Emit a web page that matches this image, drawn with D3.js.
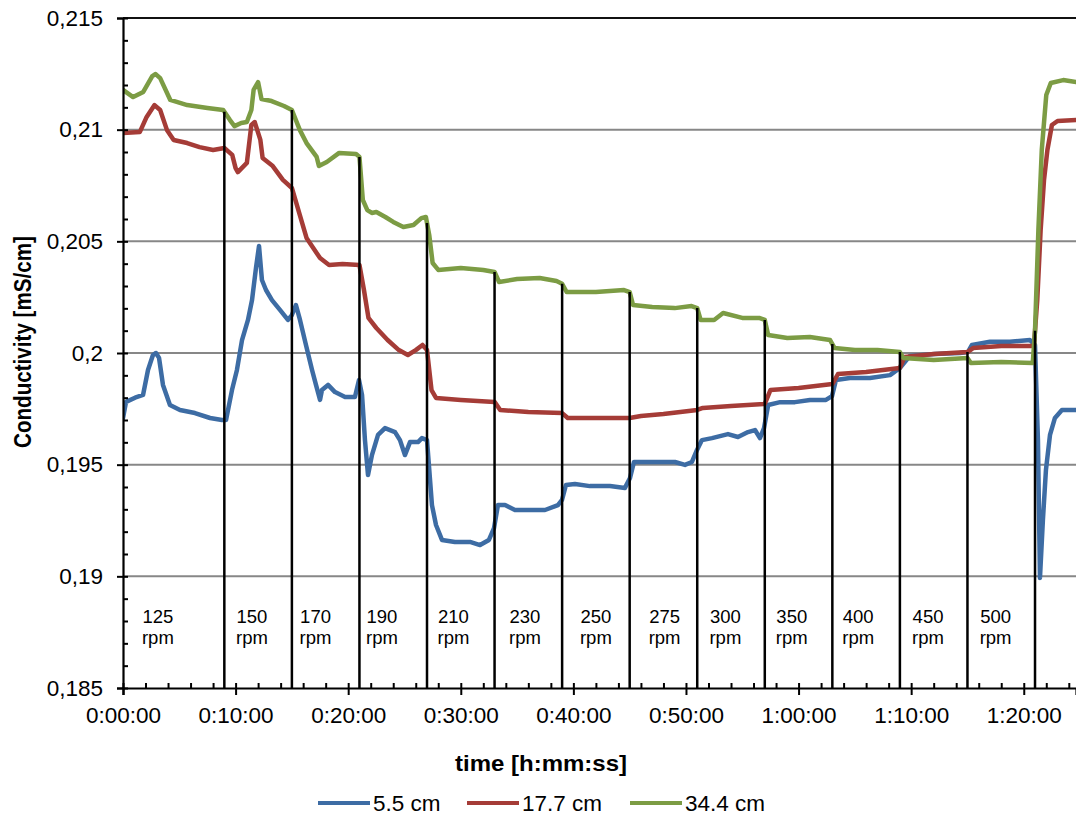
<!DOCTYPE html>
<html>
<head>
<meta charset="utf-8">
<script src="https://cdn.jsdelivr.net/npm/d3@7"></script>
<style>
  body { margin: 0; background: #fff; }
  svg { display: block; }
  text { font-family: "Liberation Sans", Arial, sans-serif; fill: #000; }
</style>
</head>
<body>
<svg id="chart" width="1076" height="821"></svg>
<script>
// Conductivity recorded at three probe heights while the stirrer speed is stepped up.
// Times are in minutes from the start of the run, values in mS/cm.

const seriesNames = ["5.5 cm", "17.7 cm", "34.4 cm"];
const seriesColors = ["#3d6ca4", "#a53c37", "#7c9c44"];

const cond55 = [
  [0, .19709], [0.27, .19781], [1.07, .1980], [1.78, .19812], [2.22, .19924], [2.66, .19991],
  [2.93, .2000], [3.2, .19978], [3.55, .19857], [4.17, .19767], [5.06, .19745], [6.39, .19731],
  [7.73, .19709], [8.79, .1970], [9.15, .1970], [9.68, .19834], [10.12, .19924], [10.57, .20058],
  [11.1, .20148], [11.46, .20237], [11.81, .20381], [12.08, .20479], [12.34, .20327], [12.7, .20282],
  [13.23, .20237], [13.94, .20193], [14.65, .20148], [15.0, .2017], [15.36, .20215], [15.72, .20148],
  [16.25, .20036], [16.79, .19924], [17.14, .19857], [17.5, .1979], [17.67, .19834], [18.21, .19857],
  [18.83, .19825], [19.72, .19803], [20.6, .19803], [20.96, .19879], [21.23, .19812], [21.49, .1961],
  [21.76, .19454], [22.11, .19543], [22.65, .19633], [23.27, .19664], [24.16, .19646], [24.6, .1961],
  [25.04, .19543], [25.49, .19601], [26.2, .19601], [26.55, .19619], [27.0, .1961], [27.44, .19319],
  [27.8, .1923], [28.33, .19163], [29.48, .19154], [30.82, .19154], [31.71, .1914], [32.5, .19163],
  [32.95, .19216], [33.3, .19319], [33.93, .19319], [34.81, .19297], [36.15, .19297], [37.48, .19297],
  [38.63, .19319], [38.99, .19342], [39.34, .19409], [40.14, .19413], [41.47, .19404], [43.25, .19404],
  [44.58, .19396], [45.03, .1944], [45.38, .19512], [46.36, .19512], [47.69, .19512], [49.02, .19512],
  [49.91, .19499], [50.53, .19512], [50.98, .19566], [51.42, .1961], [52.31, .19619], [53.02, .19628],
  [53.73, .19637], [54.62, .19624], [55.51, .19646], [56.13, .19655], [56.57, .19619], [56.93, .19664],
  [57.3, .19767], [58.36, .1978], [59.68, .1978], [61.01, .1979], [62.43, .1979], [62.97, .19807],
  [63.32, .19879], [64.56, .19888], [66.34, .19888], [68.12, .19901], [69.0, .19933], [69.89, .19987],
  [72.11, .19996], [74.33, .2000], [75.04, .20004], [75.4, .20036], [77.0, .2005], [78.77, .2005],
  [80.55, .20058], [81.0, .20036], [81.26, .1961], [81.44, .18993], [81.7, .19252], [81.97, .19476],
  [82.33, .19633], [82.77, .19709], [83.39, .19745], [84.64, .19745]
];

const cond177 = [
  [0, .20985], [1.5, .2099], [2.1, .21057], [2.8, .2111], [3.3, .21088], [3.9, .20999],
  [4.5, .20954], [5.7, .2094], [6.8, .20922], [8.0, .20909], [9.0, .20918], [9.7, .20887],
  [10.0, .20828], [10.2, .2081], [11.0, .20851], [11.4, .21021], [11.7, .21034], [12.2, .20954],
  [12.4, .20873], [13.3, .20837], [14.2, .20775], [15.0, .20739], [15.7, .20618], [16.3, .20515],
  [17.5, .20425], [18.3, .20394], [19.5, .20399], [21.0, .20394], [21.4, .20282], [21.8, .20157],
  [22.5, .20112], [23.5, .20058], [24.5, .20013], [25.3, .19991], [26.0, .20013], [26.6, .20036],
  [27.0, .20013], [27.4, .19834], [27.8, .19799], [30.0, .1979], [33.0, .19781], [33.5, .19745],
  [36.0, .19736], [39.0, .19731], [39.5, .19709], [42.0, .19709], [45.0, .19709], [46.0, .19718],
  [48.0, .19727], [51.0, .19745], [51.5, .19754], [54.0, .19763], [57.0, .19772], [57.5, .19834],
  [60.0, .19843], [63.0, .19861], [63.5, .19906], [66.0, .19915], [69.0, .19933], [69.4, .19982],
  [72.0, .19996], [75.0, .20004], [75.5, .20022], [78.0, .20031], [80.9, .20031], [81.2, .20237],
  [81.5, .20551], [81.8, .20775], [82.1, .20909], [82.5, .21021], [83.0, .21039], [84.64, .21043]
];

const cond344 = [
  [0, .21178], [0.9, .21146], [1.8, .21169], [2.6, .2124], [2.9, .21249], [3.3, .21231],
  [4.2, .21133], [5.7, .2111], [7.5, .21097], [8.9, .21088], [9.5, .21043], [9.9, .21016],
  [10.5, .2103], [11.0, .21034], [11.4, .21088], [11.6, .21178], [12.0, .21213], [12.3, .21137],
  [13.2, .21128], [14.3, .21106], [15.0, .21088], [15.7, .20999], [16.3, .2094], [17.2, .20878],
  [17.4, .20837], [18.1, .20855], [19.2, .20896], [20.7, .20891], [21.0, .20878], [21.3, .20685],
  [21.7, .2064], [22.1, .20627], [22.5, .20631], [23.3, .20609], [24.0, .20587], [24.9, .20564],
  [25.8, .20573], [26.5, .20604], [26.9, .20609], [27.2, .20528], [27.5, .20403], [28.0, .20372],
  [30.0, .20381], [32.0, .20372], [33.0, .20363], [33.4, .20318], [35.0, .20331], [37.0, .20336],
  [38.5, .20322], [39.0, .2031], [39.4, .20273], [42.0, .20273], [44.5, .20282], [45.0, .20273],
  [45.3, .20215], [47.0, .20206], [49.0, .20201], [50.5, .2021], [51.0, .20201], [51.3, .20148],
  [52.5, .20148], [53.3, .20179], [55.0, .20157], [56.5, .20157], [57.0, .20148], [57.3, .20081],
  [59.0, .20067], [61.0, .20072], [62.8, .20058], [63.2, .20022], [65.0, .20013], [67.0, .20013],
  [69.0, .20004], [69.3, .19978], [72.0, .19969], [75.0, .19978], [75.3, .19955], [78.0, .1996],
  [80.8, .19955], [81.0, .2010], [81.3, .20551], [81.6, .20909], [82.0, .21155], [82.4, .21209],
  [83.5, .21222], [84.64, .21213]
];

// Stirrer speeds and the minute at which each new speed starts
const speeds = ["125", "150", "170", "190", "210", "230", "250", "275", "300", "350", "400", "450", "500"];
const speedChanges = [9, 15, 21, 27, 33, 39, 45, 51, 57, 63, 69, 75, 81];
const speedLabelTimes = [3.1, 11.45, 17.1, 23.0, 29.35, 35.7, 42.0, 48.1, 53.5, 59.4, 65.3, 71.5, 77.5];

const yTicks = [0.185, 0.19, 0.195, 0.2, 0.205, 0.21, 0.215];
const yTickLabels = ["0,185", "0,19", "0,195", "0,2", "0,205", "0,21", "0,215"];
const xTicks = [0, 10, 20, 30, 40, 50, 60, 70, 80];
const xTickLabels = ["0:00:00", "0:10:00", "0:20:00", "0:30:00", "0:40:00", "0:50:00", "1:00:00", "1:10:00", "1:20:00"];

const allSeries = [cond55, cond177, cond344];

// ---- layout ----
const svg = d3.select("#chart");
const plot = { left: 123, top: 18, right: 1076, bottom: 688 };

const x = d3.scaleLinear().domain([0, 84.64]).range([plot.left, plot.right]);
const y = d3.scaleLinear().domain([0.185, 0.215]).range([plot.bottom, plot.top]);

svg.append("defs").append("clipPath").attr("id", "plot-clip")
  .append("rect")
  .attr("x", plot.left).attr("y", plot.top - 10)
  .attr("width", plot.right - plot.left).attr("height", plot.bottom - plot.top + 10);

// horizontal gridlines
svg.append("g").selectAll("line")
  .data(yTicks.filter(v => v > 0.1851))
  .join("line")
  .attr("x1", plot.left).attr("x2", plot.right)
  .attr("y1", d => y(d)).attr("y2", d => y(d))
  .attr("stroke", d => d > 0.2149 ? "#111" : "#878787")
  .attr("stroke-width", 2);

// data lines
const line = d3.line().x(d => x(d[0])).y(d => y(d[1]));
svg.append("g").attr("clip-path", "url(#plot-clip)")
  .selectAll("path")
  .data(allSeries)
  .join("path")
  .attr("d", line)
  .attr("fill", "none")
  .attr("stroke", (d, i) => seriesColors[i])
  .attr("stroke-width", 4.5)
  .attr("stroke-linejoin", "round")
  .attr("stroke-linecap", "round");

// value of a series at time t (linear between samples)
const bis = d3.bisector(d => d[0]).left;
function valueAt(s, t) {
  const i = Math.max(1, Math.min(s.length - 1, bis(s, t)));
  const a = s[i - 1], b = s[i];
  const f = (t - a[0]) / (b[0] - a[0]);
  return a[1] + f * (b[1] - a[1]);
}

// speed-change markers rise from the axis to the highest trace
svg.append("g").selectAll("line")
  .data(speedChanges)
  .join("line")
  .attr("x1", d => x(d)).attr("x2", d => x(d))
  .attr("y1", plot.bottom)
  .attr("y2", d => y(d3.max(allSeries, s => valueAt(s, d))))
  .attr("stroke", "#000")
  .attr("stroke-width", 2.5);

// speed labels
const lab = svg.append("g").attr("font-size", 18.5).attr("text-anchor", "middle");
speeds.forEach((s, i) => {
  const t = lab.append("text").attr("x", x(speedLabelTimes[i]));
  t.append("tspan").attr("x", x(speedLabelTimes[i])).attr("y", 623).text(s);
  t.append("tspan").attr("x", x(speedLabelTimes[i])).attr("y", 644).text("rpm");
});

// ---- axes ----
const yMinor = d3.range(185, 216).map(v => v / 1000);
svg.append("g").attr("transform", `translate(${plot.left},0)`)
  .call(d3.axisLeft(y).tickValues(yMinor).tickSize(-5).tickFormat(""))
  .call(g => g.select(".domain").remove())
  .call(g => g.selectAll("line").attr("stroke", "#000").attr("stroke-width", 2));

svg.append("g").attr("transform", `translate(${plot.left},0)`)
  .call(d3.axisLeft(y).tickValues(yTicks).tickSize(6).tickPadding(14)
    .tickFormat((d, i) => yTickLabels[i]))
  .call(g => g.select(".domain").attr("stroke", "#000").attr("stroke-width", 2.2))
  .call(g => g.selectAll("line").attr("stroke", "#000").attr("stroke-width", 2))
  .call(g => g.selectAll("text").attr("font-size", 22.5).attr("font-family", "Liberation Sans, Arial, sans-serif").attr("fill", "#000"));

const xMinor = d3.range(0, 85, 2);
svg.append("g").attr("transform", `translate(0,${plot.bottom})`)
  .call(d3.axisBottom(x).tickValues(xMinor).tickSize(-5).tickFormat(""))
  .call(g => g.select(".domain").remove())
  .call(g => g.selectAll("line").attr("stroke", "#000").attr("stroke-width", 2));

svg.append("g").attr("transform", `translate(0,${plot.bottom})`)
  .call(d3.axisBottom(x).tickValues(xTicks).tickSize(7).tickPadding(12)
    .tickFormat((d, i) => xTickLabels[i]))
  .call(g => g.select(".domain").attr("stroke", "#000").attr("stroke-width", 2.2))
  .call(g => g.selectAll("line").attr("stroke", "#000").attr("stroke-width", 2))
  .call(g => g.selectAll("text").attr("font-size", 22.5).attr("font-family", "Liberation Sans, Arial, sans-serif").attr("fill", "#000"));

// axis titles
svg.append("text")
  .attr("x", 541).attr("y", 771)
  .attr("text-anchor", "middle")
  .attr("font-size", 22).attr("font-weight", "bold")
  .attr("textLength", 172).attr("lengthAdjust", "spacingAndGlyphs")
  .text("time [h:mm:ss]");

svg.append("text")
  .attr("transform", "translate(31,342) rotate(-90)")
  .attr("text-anchor", "middle")
  .attr("font-size", 23).attr("font-weight", "bold")
  .attr("textLength", 212).attr("lengthAdjust", "spacingAndGlyphs")
  .text("Conductivity [mS/cm]");

// legend
const legendX = [318, 467, 630];
const leg = svg.append("g");
seriesNames.forEach((name, i) => {
  leg.append("line")
    .attr("x1", legendX[i]).attr("x2", legendX[i] + 52)
    .attr("y1", 803).attr("y2", 803)
    .attr("stroke", seriesColors[i]).attr("stroke-width", 4);
  leg.append("text")
    .attr("x", legendX[i] + 55).attr("y", 811)
    .attr("font-size", 22.5)
    .text(name);
});
</script>
</body>
</html>
